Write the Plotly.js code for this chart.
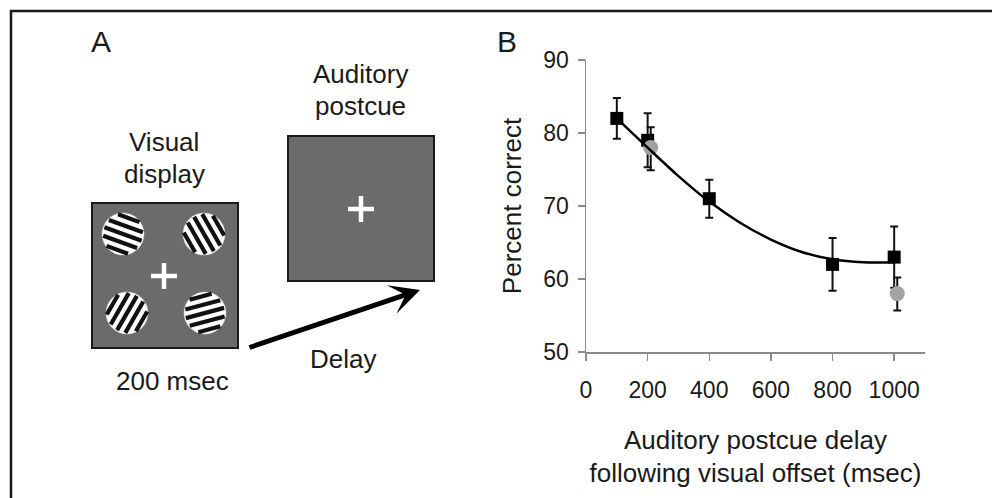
<!DOCTYPE html>
<html>
<head>
<meta charset="utf-8">
<script src="https://cdn.plot.ly/plotly-3.0.1.min.js"></script>
<style>html,body{margin:0;padding:0;background:#fff;}#chart{width:992px;height:498px;}</style>
</head>
<body>
<div id="chart"></div>
<script>
// ---- Data (panel B) ----
const delaysSquare = [100, 200, 400, 800, 1000];
const pctSquare = [82, 79, 71, 62, 63];
const errSquare = [2.8, 3.7, 2.6, 3.6, 4.2];
const delaysCircle = [210, 1010];
const pctCircle = [78, 58];
const errCirclePlus = [2.8, 2.2];
const errCircleMinus = [3.1, 2.3];
const fitX = [100, 200, 300, 400, 500, 600, 700, 800, 900, 1000];
const fitY = [82, 78.0, 74.1, 70.6, 67.7, 65.4, 63.7, 62.7, 62.3, 62.3];
const xTickVals = [0, 200, 400, 600, 800, 1000];
const yTickVals = [50, 60, 70, 80, 90];

// ---- Panel A labels ----
const panelLabels = ['A', 'B'];
const visualLines = ['Visual', 'display'];
const auditoryLines = ['Auditory', 'postcue'];
const delayLabel = 'Delay';
const durationLabel = '200 msec';

const W = 992, H = 498;
const px = x => x / W;
const py = y => 1 - y / H;
const FONT = 'Liberation Sans, Arial, sans-serif';
const TXT = '#1a1a1a';

const shapes = [];
const annotations = [];

// outer frame (right and bottom edges fall outside the picture)
shapes.push({type:'rect', xref:'paper', yref:'paper', x0:px(11), x1:px(1010), y0:py(11), y1:py(530),
  line:{color:'#1a1a1a', width:2.5}, fillcolor:'rgba(0,0,0,0)'});

function box(x0, y0, x1, y1) {
  shapes.push({type:'rect', xref:'paper', yref:'paper', x0:px(x0), x1:px(x1), y0:py(y0), y1:py(y1),
    line:{color:'#1a1a1a', width:2}, fillcolor:'#6b6b6b'});
}
function cross(cx, cy, h) {
  shapes.push({type:'line', xref:'paper', yref:'paper', x0:px(cx-h), x1:px(cx+h), y0:py(cy), y1:py(cy), line:{color:'#ffffff', width:4.5}});
  shapes.push({type:'line', xref:'paper', yref:'paper', x0:px(cx), x1:px(cx), y0:py(cy-h), y1:py(cy+h), line:{color:'#ffffff', width:4.5}});
}
function grating(cx, cy, r, deg) {
  shapes.push({type:'circle', xref:'paper', yref:'paper', x0:px(cx-r), x1:px(cx+r), y0:py(cy-r), y1:py(cy+r),
    line:{color:'#dddddd', width:0.5}, fillcolor:'#ffffff'});
  const t = deg * Math.PI / 180;
  const ux = Math.cos(t), uy = Math.sin(t);
  const nx = -Math.sin(t), ny = Math.cos(t);
  const offs = [-16.8, -8.4, 0, 8.4, 16.8];
  offs.forEach(d => {
    const half = Math.sqrt(r*r - d*d) - 1.2;
    const mx = cx + d*nx, my = cy + d*ny;
    shapes.push({type:'line', xref:'paper', yref:'paper',
      x0:px(mx - half*ux), y0:py(my - half*uy), x1:px(mx + half*ux), y1:py(my + half*uy),
      line:{color:'#111111', width:4.2}});
  });
}

box(92, 203, 238, 348);
grating(123, 234, 21, 20);
grating(204, 234, 21, 60);
grating(127, 313, 21, -60);
grating(205, 313, 21, -15);
cross(164, 276, 13);

box(288, 136, 434, 281);
cross(361, 209, 13);

function label(text, x, y, size) {
  annotations.push({text:text, xref:'paper', yref:'paper', x:px(x), y:py(y), xanchor:'center', yanchor:'middle',
    showarrow:false, font:{family:FONT, size:size, color:TXT}});
}
label(panelLabels[0], 101, 41, 30);
label(panelLabels[1], 507, 41, 30);
label(visualLines[0], 164, 142, 26);
label(visualLines[1], 164, 174, 26);
label(auditoryLines[0], 360, 74, 26);
label(auditoryLines[1], 360, 106, 26);
label(delayLabel, 343, 359, 26);
label(durationLabel, 172, 381, 26);

// arrow
annotations.push({text:'', xref:'paper', yref:'paper', x:px(420), y:py(290), ax:248-420, ay:348-290,
  axref:'pixel', ayref:'pixel', showarrow:true, arrowhead:3, arrowsize:1, arrowwidth:5, arrowcolor:'#000000', standoff:0});

const traces = [
  {x:delaysSquare, y:pctSquare, type:'scatter', mode:'markers', name:'squares',
   marker:{symbol:'square', size:13, color:'#000000'},
   error_y:{type:'data', array:errSquare, visible:true, color:'#111111', thickness:2, width:4}},
  {x:delaysCircle, y:pctCircle, type:'scatter', mode:'markers', name:'circles',
   marker:{symbol:'circle', size:15, color:'#a3a3a3'},
   error_y:{type:'data', array:errCirclePlus, arrayminus:errCircleMinus, visible:true, color:'#111111', thickness:2, width:4}},
  {x:fitX, y:fitY, type:'scatter', mode:'lines', name:'fit',
   line:{color:'#000000', width:2.5, shape:'spline', smoothing:1}}
];

const layout = {
  width:W, height:H,
  margin:{l:0, r:0, t:0, b:0},
  paper_bgcolor:'#ffffff', plot_bgcolor:'rgba(0,0,0,0)',
  showlegend:false,
  font:{family:FONT, color:TXT},
  xaxis:{domain:[586/W, 925/W], range:[0, 1100], tickvals:xTickVals, ticks:'outside', ticklen:7, tickwidth:1.5,
    tickcolor:'#8a8a8a', showline:true, linecolor:'#8a8a8a', linewidth:1.5, showgrid:false, zeroline:false,
    tickfont:{family:FONT, size:23, color:TXT}, ticklabelstandoff:10, automargin:false,
    title:{text:'Auditory postcue delay<br>following visual offset (msec)', font:{family:FONT, size:26, color:TXT}, standoff:28}},
  yaxis:{domain:[1-352/H, 1-60/H], range:[50, 90], tickvals:yTickVals, ticks:'outside', ticklen:7, tickwidth:1.5,
    tickcolor:'#8a8a8a', showline:true, linecolor:'#8a8a8a', linewidth:1.5, showgrid:false, zeroline:false,
    tickfont:{family:FONT, size:23, color:TXT}, ticklabelstandoff:4, automargin:false,
    title:{text:'Percent correct', font:{family:FONT, size:26, color:TXT}, standoff:14}},
  shapes:shapes,
  annotations:annotations
};

Plotly.newPlot('chart', traces, layout, {displayModeBar:false, staticPlot:true});
</script>
</body>
</html>
